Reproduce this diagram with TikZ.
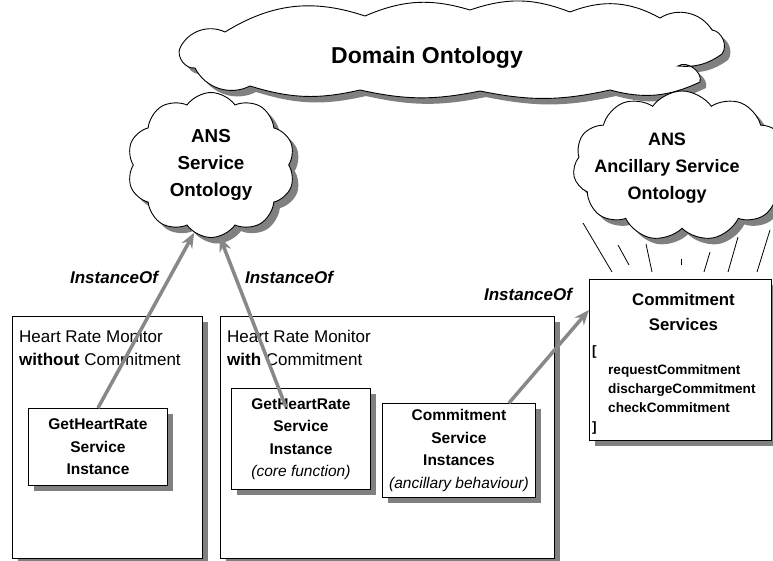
\documentclass[tikz,border=0pt]{standalone}
\usepackage{fontspec}
\setmainfont{Liberation Sans}
\usetikzlibrary{shapes.symbols,shadows,arrows.meta,calc}
\definecolor{shadowgray}{RGB}{128,128,128}
\definecolor{arrowgray}{RGB}{136,136,136}
\newcommand{\fs}[2]{\fontsize{#1}{#2}\selectfont}

\begin{document}
\begin{tikzpicture}[x=1pt,y=1pt,
    shadowed/.style={drop shadow={shadow xshift=6pt,shadow yshift=-6pt,fill=shadowgray,opacity=1}},
    sbox/.style={draw=black,fill=white,line width=0.9pt,shadowed,inner sep=2pt},
    onto/.style={cloud,draw=black,fill=white,line width=0.9pt,shadowed,cloud puffs=#1,cloud puff arc=110},
    boxtext/.style={font=\fs{15.5}{22.5}\bfseries,align=center},
    isa/.style={draw=arrowgray,line width=3.5pt,-{Stealth[length=15pt,width=12pt]}},
    isalabel/.style={font=\fs{17}{20}\bfseries\itshape},
    ray/.style={draw=black,line width=0.8pt}]
  \useasboundingbox (0,0) rectangle (773,-560);

  % ontologies
  \path[draw=black,fill=white,line width=0.9pt,shadowed]
    (180,-48) to[bend left=45] (225,-32) to[bend left=25] (365,-16)
    to[bend left=20] (470,-10) to[bend left=20] (570,-12) to[bend left=25] (660,-18)
    to[bend left=45] (712,-30) to[bend left=60] (722,-54) to[bend left=20] (678,-66)
    to[bend left=70] (700,-82) to[bend left=20] (610,-90) to[bend left=12] (480,-91)
    to[bend left=12] (360,-90) to[bend left=15] (250,-86) to[bend left=45] (195,-68)
    to[bend left=60] cycle;
  \node[font=\fs{23}{27}\bfseries,anchor=base] (domaintext) at (427,-63) {Domain Ontology};
  \node[onto=10,minimum width=168,minimum height=145,font=\fs{18.8}{27}\bfseries,align=center] (ans) at (211,-165) {ANS\\Service\\Ontology};
  \node[onto=11,minimum width=218,minimum height=150] (anc) at (682,-166) {};
  \node[font=\fs{18}{27}\bfseries,align=center] (anctext) at (667,-168) {ANS\\Ancillary Service\\Ontology};

  \draw[ray] (583,-223) -- (612,-272);
  \draw[ray] (618,-245) -- (629,-265);
  \draw[ray] (646,-244) -- (652,-272);
  \draw[ray] (681,-259) -- (681,-265);
  \draw[ray] (710,-252) -- (704,-272);
  \draw[ray] (738,-237) -- (728,-272);
  \draw[ray] (770,-230) -- (757,-272);

  % heart rate monitors
  \node[sbox,minimum width=190,minimum height=242,anchor=north west] (hrmwithout) at (12,-316) {};
  \node[anchor=north west,align=left,inner sep=0pt,font=\fs{17}{23}] (hrmwithouttext) at ($(hrmwithout.north west)+(7,-13.5)$) {Heart Rate Monitor\\\textbf{without} Commitment};
  \node[sbox,minimum width=334,minimum height=242,anchor=north west] (hrmwith) at (220,-316) {};
  \node[anchor=north west,align=left,inner sep=0pt,font=\fs{17}{23}] (hrmwithtext) at ($(hrmwith.north west)+(7,-13.5)$) {Heart Rate Monitor\\\textbf{with} Commitment};

  \node[sbox,boxtext,minimum width=139,minimum height=77,anchor=north west] (ghrone) at (28,-408) {GetHeartRate\\Service\\Instance};
  \node[sbox,boxtext,minimum width=139,minimum height=101,anchor=north west] (ghrtwo) at (231,-388) {GetHeartRate\\Service\\Instance\\\mdseries\itshape(core function)};
  \node[sbox,boxtext,minimum width=153,minimum height=94,anchor=north west] (csi) at (382,-403) {Commitment\\Service\\Instances\\\mdseries\itshape(ancillary behaviour)};

  % commitment services
  \node[sbox,minimum width=182,minimum height=161,anchor=north west] (cs) at (589,-279) {};
  \node[anchor=north,align=center,inner sep=0pt,font=\fs{16.8}{25}\bfseries] (cstitle) at ($(cs.north)+(3,-14)$) {Commitment\\Services};
  \node[anchor=north west,align=left,inner sep=0pt,font=\fs{13.6}{19}\bfseries] (cslist) at ($(cs.north west)+(3,-66)$) {[\\\hspace*{16pt}requestCommitment\\\hspace*{16pt}dischargeCommitment\\\hspace*{16pt}checkCommitment\\]};

  % instance of
  \coordinate (ghrtwotail) at ($(ghrtwo.north)+(-15,-19)$);
  \draw[isa] (ghrone.north) -- (ans.-104);
  \draw[isa] (ghrtwotail) -- (ans.-83);
  \draw[isa] ($(csi.north)+(50,0)$) -- ($(cs.north west)+(0,-31)$);
  \node[isalabel] (isaone) at (114,-277) {InstanceOf};
  \node[isalabel] (isatwo) at (289,-277) {InstanceOf};
  \node[isalabel] (isathree) at (528,-294) {InstanceOf};
\end{tikzpicture}
\end{document}
